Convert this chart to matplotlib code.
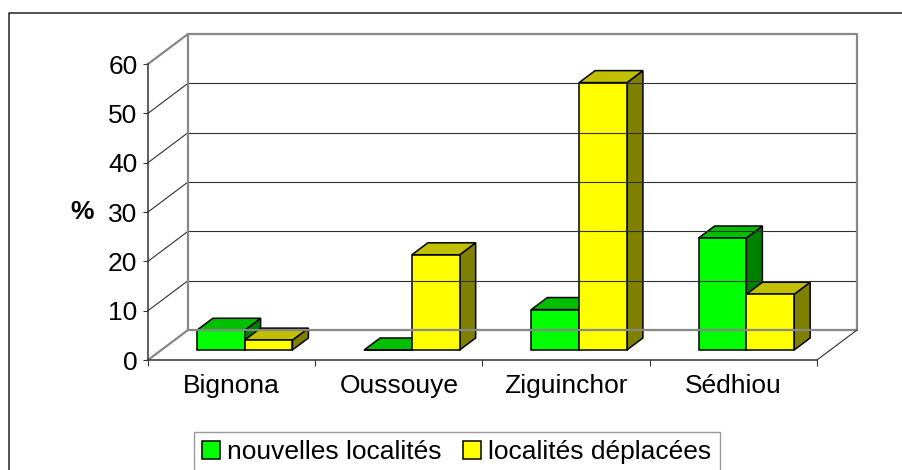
import matplotlib
matplotlib.use("Agg")
import matplotlib.pyplot as plt
from matplotlib.patches import Polygon, Rectangle
from matplotlib.lines import Line2D

plt.rcParams['font.family'] = ['Liberation Sans', 'DejaVu Sans']

categories = ['Bignona', 'Oussouye', 'Ziguinchor', 'Sédhiou']
series_names = ['nouvelles localités', 'localités déplacées']
nouvelles = [4.0, 0.0, 8.2, 22.7]
deplacees = [2.0, 19.3, 54.2, 11.3]
yticks = [0, 10, 20, 30, 40, 50, 60]

# colours for front / top / side faces
faces = [('#00ff00', '#00c000', '#008000'),
         ('#ffff00', '#c0c000', '#808000')]

W, H = 903, 470
FS = 19
fig = plt.figure(figsize=(W / 100, H / 100), dpi=100)
# front plane of the 3D box, in pixels
x0_px, x1_px, y0_px, y1_px = 148, 817, 360, 64
ax = fig.add_axes([x0_px / W, (H - y0_px) / H, (x1_px - x0_px) / W, (y0_px - y1_px) / H])
ax.set_xlim(0, len(categories))
ax.set_ylim(0, 60)
ax.patch.set_alpha(0)

PX = (x1_px - x0_px) / len(categories)   # px per category
PY = (y0_px - y1_px) / 60.0              # px per percent


def off(dx_px, dy_px):
    return dx_px / PX, dy_px / PY


wdx, wdy = off(40, 30)   # wall depth
fdx, fdy = off(13, 10)   # bar front offset
bdx, bdy = off(16, 12)   # bar depth

grey = '#888888'
kw = dict(clip_on=False)

# back wall gridlines and side wall diagonals
for v in yticks[1:-1]:
    ax.plot([wdx, 4 + wdx], [v + wdy, v + wdy], color='#303030', lw=0.8, **kw)
    ax.plot([0, wdx], [v, v + wdy], color='#303030', lw=0.8, **kw)
# wall frame
ax.plot([0, wdx, wdx, 4 + wdx, 4 + wdx, wdx], [60, 60 + wdy, wdy, wdy, 60 + wdy, 60 + wdy],
        color=grey, lw=1.6, **kw)
ax.plot([0, wdx], [0, wdy], color=grey, lw=1.6, **kw)
ax.plot([4, 4 + wdx], [0, wdy], color='#303030', lw=0.8, **kw)

# bars
gap = 1.5
bw = 1.0 / (2 + gap)
for i in range(len(categories)):
    for s, vals in enumerate([nouvelles, deplacees]):
        v = vals[i]
        xa = i + bw * gap / 2 + s * bw + fdx
        xb = xa + bw
        ya, yb = fdy, v + fdy
        front_c, top_c, side_c = faces[s]
        ax.add_patch(Polygon([(xb, ya), (xb + bdx, ya + bdy), (xb + bdx, yb + bdy), (xb, yb)],
                             closed=True, fc=side_c, ec='black', lw=1.1, joinstyle='miter', **kw))
        ax.add_patch(Polygon([(xa, yb), (xb, yb), (xb + bdx, yb + bdy), (xa + bdx, yb + bdy)],
                             closed=True, fc=top_c, ec='black', lw=1.1, joinstyle='miter', **kw))
        ax.add_patch(Rectangle((xa, ya), bw, v, fc=front_c, ec='black', lw=1.1,
                               joinstyle='miter', **kw))

# front axes
for side in ['top', 'right']:
    ax.spines[side].set_visible(False)
for side in ['left', 'bottom']:
    ax.spines[side].set_color('#333333')
    ax.spines[side].set_linewidth(1.1)
ax.set_yticks(yticks)
ax.set_yticklabels([str(t) for t in yticks])
ax.tick_params(axis='y', length=3.6, width=0.8, color='#333333', pad=4, labelsize=FS)
ax.set_xticks(range(len(categories) + 1))
ax.set_xticklabels([])
ax.set_xticks([i + 0.5 for i in range(len(categories))], minor=True)
ax.set_xticklabels(categories, minor=True)
ax.tick_params(axis='x', which='major', length=4.3, width=0.8, color='#333333', direction='out')
ax.tick_params(axis='x', which='minor', length=0, pad=10, labelsize=FS)

fig.text(82 / W, 1 - 212 / H, '%', fontsize=FS, fontweight='bold', ha='center', va='center')

# outer frame (cropped on right / bottom)
fig.add_artist(Line2D([9 / W, 9 / W, 1.0], [0.0, 1 - 13 / H, 1 - 13 / H],
                      color='#222222', lw=1.1, transform=fig.transFigure))

handles = [Rectangle((0, 0), 1, 1, fc=faces[k][0], ec='black', lw=1.1) for k in range(2)]
leg = fig.legend(handles, series_names, loc='upper left',
                 bbox_to_anchor=(194 / W, 1 - 432 / H), borderaxespad=0, ncol=2,
                 fontsize=FS, frameon=True, fancybox=False, edgecolor='#808080',
                 handlelength=0.68, handleheight=0.68, handletextpad=0.27,
                 columnspacing=0.83, borderpad=0.3)
leg.get_frame().set_linewidth(1.0)

fig.savefig('out.png', dpi=100)
